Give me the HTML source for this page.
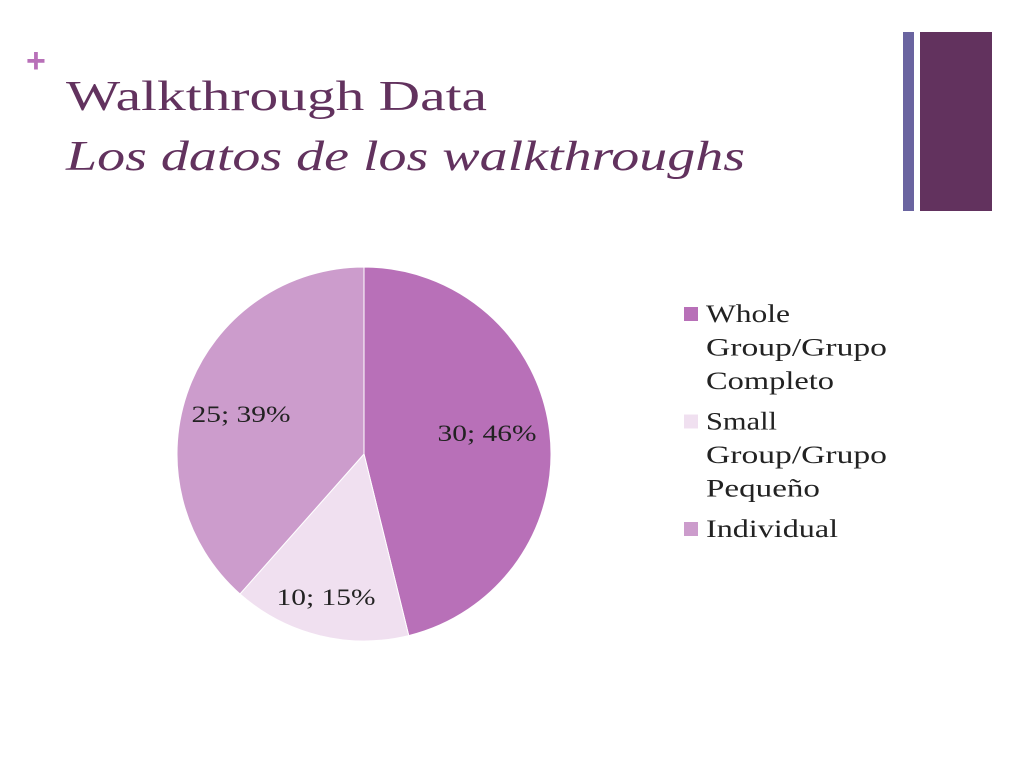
<!DOCTYPE html>
<html><head><meta charset="utf-8"><style>
body{margin:0;width:1024px;height:768px;background:#fff;overflow:hidden;font-family:"Liberation Serif",serif;}
</style></head><body>
<svg width="1024" height="768">
<text x="26" y="72" font-size="34" fill="#b870b8" font-family="Liberation Sans, sans-serif" font-weight="bold">+</text>
<text x="66" y="110" font-size="42" fill="#62325e" textLength="421" lengthAdjust="spacingAndGlyphs">Walkthrough Data</text>
<text x="66" y="170" font-size="42" font-style="italic" fill="#62325e" textLength="679" lengthAdjust="spacingAndGlyphs">Los datos de los walkthroughs</text>
<rect x="903" y="32" width="11" height="179" fill="#6a64a0"/>
<rect x="920" y="32" width="72" height="179" fill="#62325e"/>
<g id="pie"></g>
<g id="legend"></g>
</svg>
<script>
const categories=["Whole Group/Grupo Completo","Small Group/Grupo Pequeño","Individual"];
const values=[30,10,25];
const percents=["46%","15%","39%"];
const colors=["#b870b8","#f0e0f0","#cc9ccc"];
const NS="http://www.w3.org/2000/svg";
const cx=364,cy=454,r=187;
const total=values.reduce((a,b)=>a+b,0);
const pie=document.getElementById('pie');
const labelPos=[[487,441],[326,605],[241,422]];
let a0=0;
values.forEach((v,i)=>{
  const a1=a0+v/total*2*Math.PI;
  const x0=cx+r*Math.sin(a0),y0=cy-r*Math.cos(a0),x1=cx+r*Math.sin(a1),y1=cy-r*Math.cos(a1);
  const p=document.createElementNS(NS,'path');
  p.setAttribute('d',`M${cx},${cy}L${x0},${y0}A${r},${r} 0 ${a1-a0>Math.PI?1:0} 1 ${x1},${y1}Z`);
  p.setAttribute('fill',colors[i]);
  p.setAttribute('stroke','#fff');p.setAttribute('stroke-width','1');
  
  
  pie.appendChild(p);
  a0=a1;
});
values.forEach((v,i)=>{
  const t=document.createElementNS(NS,'text');
  t.setAttribute('x',labelPos[i][0]);t.setAttribute('y',labelPos[i][1]);
  t.setAttribute('text-anchor','middle');t.setAttribute('font-size','23');t.setAttribute('fill','#222');
  t.setAttribute('textLength','99');t.setAttribute('lengthAdjust','spacingAndGlyphs');
  t.textContent=values[i]+"; "+percents[i];
  
  
  pie.appendChild(t);
});
const lg=document.getElementById('legend');
const lines=[["Whole","Group/Grupo","Completo"],["Small","Group/Grupo","Pequeño"],["Individual"]];
const widths=[[84,181,128],[71,181,114],[132]];
let y=322;
lines.forEach((ls,i)=>{
  const s=document.createElementNS(NS,'rect');
  s.setAttribute('x',684);s.setAttribute('y',y-15);s.setAttribute('width',14);s.setAttribute('height',14);
  s.setAttribute('fill',colors[i]);
  
  
  lg.appendChild(s);
  ls.forEach((l,j)=>{
    const t=document.createElementNS(NS,'text');
    t.setAttribute('x',706);t.setAttribute('y',y+j*33.5);t.setAttribute('font-size','25');t.setAttribute('fill','#222');
    t.setAttribute('textLength',widths[i][j]);t.setAttribute('lengthAdjust','spacingAndGlyphs');
    t.textContent=l;
    
    
    lg.appendChild(t);
  });
  y+=ls.length*33.5+7;
});
</script>
</body></html>
